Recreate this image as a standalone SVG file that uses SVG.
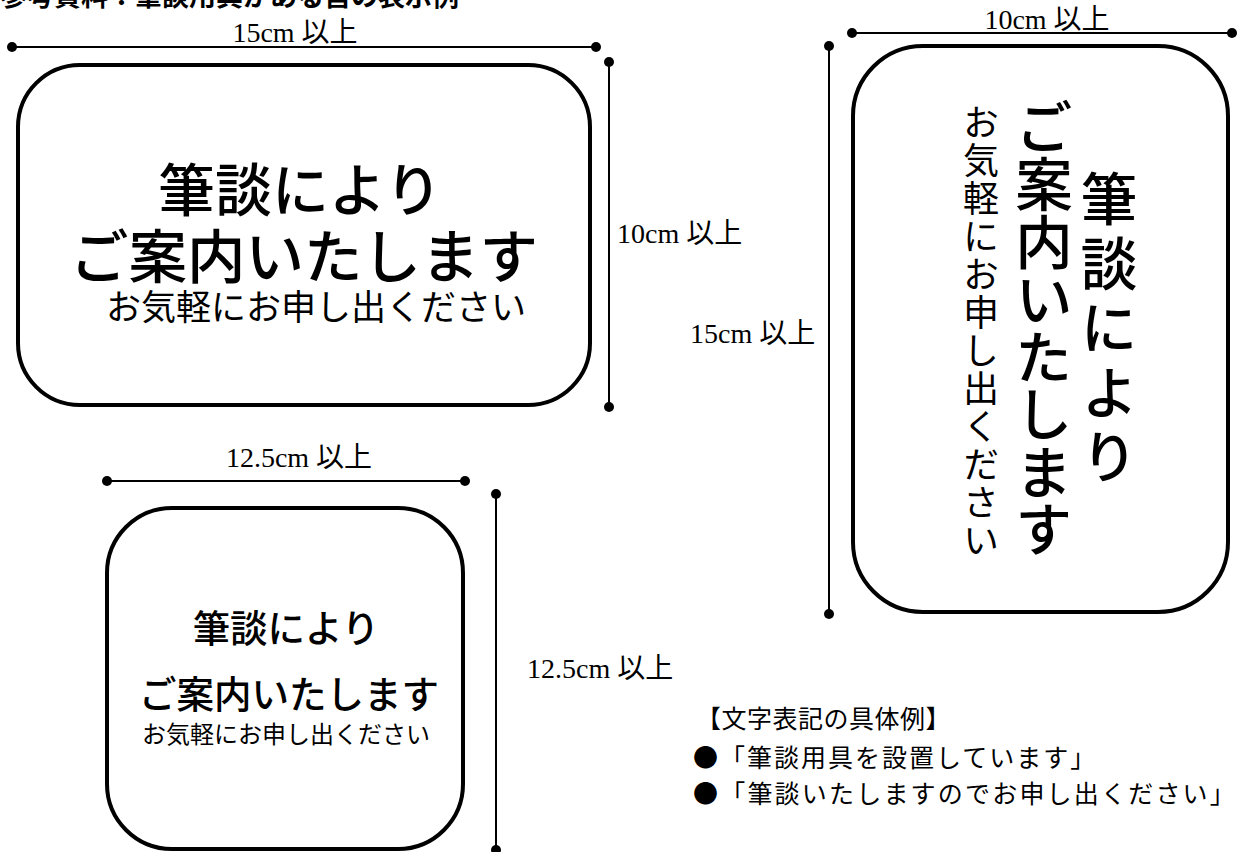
<svg xmlns="http://www.w3.org/2000/svg" width="1239" height="852" viewBox="0 0 1239 852">
<style>
.box{fill:#fff;stroke:#000;stroke-width:4}
.dim{stroke:#000;stroke-width:2;fill:none}
.dot{fill:#000}
.lbl{font-family:"Liberation Serif","Noto Sans CJK JP",serif;font-size:28px;fill:#000}
.jp{font-family:"Noto Sans CJK JP",sans-serif;fill:#000}
.sg{font-family:"Noto Sans CJK JP",sans-serif;font-weight:500;fill:#000}
.sm{font-family:"Noto Sans CJK JP",sans-serif;font-weight:400;fill:#000}
.vt{font-family:"Noto Sans CJK JP",sans-serif;font-weight:500;fill:#000;writing-mode:vertical-rl}
.vs{font-family:"Noto Sans CJK JP",sans-serif;font-weight:400;fill:#000;writing-mode:vertical-rl}
</style>
<rect width="1239" height="852" fill="#fff"/>
<text class="jp" x="0" y="6" font-size="27" font-weight="bold">参考資料：筆談用具がある旨の表示例</text>

<g id="sign-landscape">
<rect class="box" x="18" y="65" width="572" height="340" rx="62"/>
<text class="sg" x="300" y="211" font-size="57" text-anchor="middle">筆談により</text>
<text class="sg" x="304" y="278" font-size="58.5" text-anchor="middle">ご案内いたします</text>
<text class="sm" x="316" y="320" font-size="35" text-anchor="middle">お気軽にお申し出ください</text>
</g>

<g id="sign-portrait">
<rect class="box" x="853" y="46" width="375" height="566" rx="70"/>
<text class="vt" x="1109" y="170" font-size="57" letter-spacing="7.5">筆談により</text>
<text class="vt" x="1044" y="98" font-size="57.5">ご案内いたします</text>
<text class="vs" x="981" y="104" font-size="36" letter-spacing="2">お気軽にお申し出ください</text>
</g>

<g id="sign-square">
<rect class="box" x="107" y="508" width="356" height="341" rx="65"/>
<text class="sg" x="286" y="642" font-size="37.5" text-anchor="middle">筆談により</text>
<text class="sg" x="289" y="708" font-size="37.5" text-anchor="middle">ご案内いたします</text>
<text class="sm" x="286" y="743" font-size="24" text-anchor="middle">お気軽にお申し出ください</text>
</g>

<g id="connectors">
<line class="dim" x1="12" y1="47" x2="596" y2="47"/>
<circle class="dot" cx="12" cy="47" r="5"/><circle class="dot" cx="596" cy="47" r="5"/>
<line class="dim" x1="609" y1="62" x2="609" y2="407"/>
<circle class="dot" cx="609" cy="62" r="5"/><circle class="dot" cx="609" cy="407" r="5"/>
<line class="dim" x1="852" y1="33" x2="1232" y2="33"/>
<circle class="dot" cx="852" cy="33" r="5"/><circle class="dot" cx="1232" cy="33" r="5"/>
<line class="dim" x1="829" y1="46" x2="829" y2="614"/>
<circle class="dot" cx="829" cy="46" r="5"/><circle class="dot" cx="829" cy="614" r="5"/>
<line class="dim" x1="107" y1="481" x2="465" y2="481"/>
<circle class="dot" cx="107" cy="481" r="5"/><circle class="dot" cx="465" cy="481" r="5"/>
<line class="dim" x1="496" y1="494" x2="496" y2="850"/>
<circle class="dot" cx="496" cy="494" r="5"/><circle class="dot" cx="496" cy="850" r="5"/>
</g>

<g id="labels">
<text class="lbl" x="295" y="42" text-anchor="middle">15cm 以上</text>
<text class="lbl" x="617" y="243">10cm 以上</text>
<text class="lbl" x="1047" y="29" text-anchor="middle">10cm 以上</text>
<text class="lbl" x="690" y="343">15cm 以上</text>
<text class="lbl" x="299" y="467" text-anchor="middle">12.5cm 以上</text>
<text class="lbl" x="527" y="678">12.5cm 以上</text>
</g>

<g id="examples">
<text class="jp" x="696" y="728" font-size="25" letter-spacing="0.5">【文字表記の具体例】</text>
<text class="jp" x="693" y="767" font-size="25" letter-spacing="2">●「筆談用具を設置しています」</text>
<text class="jp" x="693" y="803" font-size="25" letter-spacing="2.2">●「筆談いたしますのでお申し出ください」</text>
</g>
</svg>
